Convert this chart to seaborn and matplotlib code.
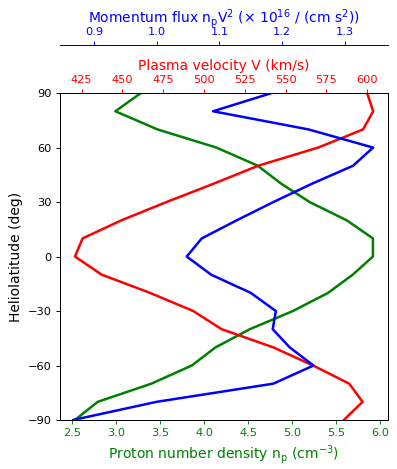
import numpy as np
import pandas as pd
import matplotlib
matplotlib.use("Agg")
import matplotlib.pyplot as plt
import seaborn as sns

latitude = [90, 80, 70, 60, 50, 40, 30, 20, 10, 0,
            -10, -20, -30, -40, -50, -60, -70, -80, -90]
density = [3.28, 2.99, 3.47, 4.14, 4.61, 4.88, 5.20, 5.62, 5.92, 5.92,
           5.69, 5.41, 5.01, 4.52, 4.13, 3.86, 3.40, 2.79, 2.53]
velocity = [600.0, 603.7, 597.5, 570.0, 533.2, 505.6, 477.0, 449.5, 425.6, 420.9,
            437.3, 466.9, 493.4, 510.8, 542.4, 566.9, 589.0, 597.2, 585.7]
flux = [1.183, 1.090, 1.242, 1.345, 1.313, 1.247, 1.186, 1.128, 1.072, 1.048,
        1.087, 1.150, 1.190, 1.185, 1.212, 1.250, 1.186, 1.000, 0.867]

df = pd.DataFrame({"lat": latitude, "n": density, "v": velocity, "f": flux})

plt.rcParams.update({
    "xtick.major.size": 2.9, "ytick.major.size": 2.9,
    "xtick.major.width": 0.67, "ytick.major.width": 0.67,
    "xtick.major.pad": 2.9, "ytick.major.pad": 2.9,
    "axes.linewidth": 0.67, "axes.labelpad": 3.4,
})

fig = plt.figure(figsize=(3.97, 4.69), dpi=100)
ax = fig.add_axes([0.151, 0.1045, 0.826, 0.697])

sns.lineplot(data=df, x="n", y="lat", orient="y", estimator=None,
             color="green", lw=1.8, ax=ax)
ax.set_xlim(2.36, 6.09)
ax.set_ylim(-90, 90)
ax.set_yticks([-90, -60, -30, 0, 30, 60, 90])
ax.set_xlabel("Proton number density n$_\\mathrm{p}$ (cm$^{-3}$)", color="green", fontsize=10)
ax.set_ylabel("Heliolatitude (deg)", fontsize=10)
ax.tick_params(axis="x", colors="green", labelsize=8.2)
ax.tick_params(axis="y", labelsize=8.2)
ax.spines["bottom"].set_color("black")

ax2 = ax.twiny()
sns.lineplot(data=df, x="v", y="lat", orient="y", estimator=None,
             color="red", lw=1.8, ax=ax2)
ax2.set_xlim(411.7, 612.7)
ax2.set_xticks([425, 450, 475, 500, 525, 550, 575, 600])
ax2.set_xlabel("Plasma velocity V (km/s)", color="red", fontsize=10)
ax2.tick_params(axis="x", colors="red", labelsize=8.2)
ax2.spines["top"].set_color("black")

ax3 = ax.twiny()
sns.lineplot(data=df, x="f", y="lat", orient="y", estimator=None,
             color="blue", lw=1.8, ax=ax3)
ax3.set_xlim(0.846, 1.3685)
ax3.set_xticks([0.9, 1.0, 1.1, 1.2, 1.3])
ax3.spines["top"].set_position(("outward", 34.6))
ax3.spines["top"].set_color("black")
ax3.set_xlabel("Momentum flux n$_\\mathrm{p}$V$^2$ (\u00d7 10$^{16}$ / (cm s$^2$))",
               color="blue", fontsize=10)
ax3.tick_params(axis="x", colors="blue", labelsize=8.2)
for a in (ax, ax2, ax3):
    a.set_ylim(-90, 90)
    a.set_ylabel("Heliolatitude (deg)", fontsize=10)
for s in ("left", "right", "bottom"):
    ax3.spines[s].set_visible(False)

fig.savefig("out.png", dpi=100)
